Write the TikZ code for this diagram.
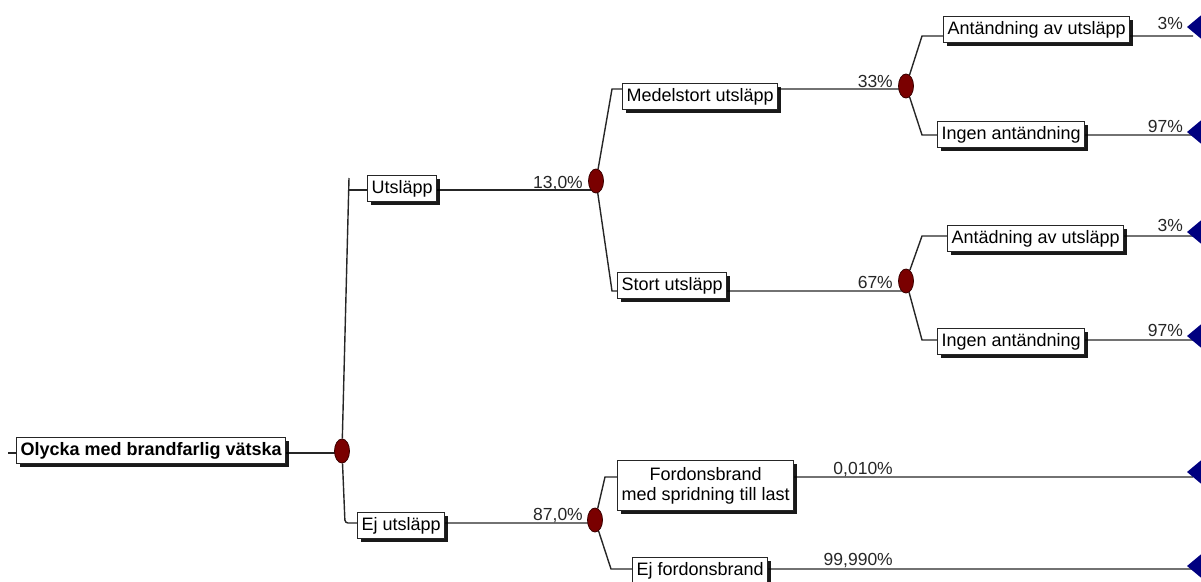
\documentclass[tikz,border=0pt]{standalone}
\usepackage{fontspec}
\setmainfont{Liberation Sans}
\usetikzlibrary{shapes.geometric,shadows}
\pgfdeclarelayer{bg}
\pgfsetlayers{bg,main}
\definecolor{chancefill}{HTML}{7A0000}
\definecolor{chanceline}{HTML}{3A0000}
\definecolor{termfill}{HTML}{000080}
\begin{document}
\begin{tikzpicture}[x=1pt,y=-1pt,
  boxbase/.style={draw=black!85, line width=1.2pt, fill=white, inner xsep=4pt,
    font=\fontsize{18}{20}\selectfont,
    drop shadow={shadow xshift=3.5pt, shadow yshift=-3.5pt, fill=black, opacity=0.9}},
  box/.style={boxbase, inner ysep=0pt, text height=13pt, text depth=4pt, minimum height=26pt},
  boxtwo/.style={boxbase, align=center, inner ysep=5pt, minimum height=50pt},
  chance/.style={ellipse, draw=chanceline, line width=0.8pt, fill=chancefill, minimum width=15pt, minimum height=24pt, inner sep=0pt},
  conn/.style={draw=black!85, line width=1.4pt},
  lab/.style={font=\fontsize{17.5}{20}\selectfont, inner sep=0pt, text=black!85},
  term/.style={fill=termfill}]
\useasboundingbox (0,0) rectangle (1201,581);
\clip (0,0) rectangle (1201,581);

% boxes
\node[box, anchor=north west, font=\bfseries\fontsize{18}{20}\selectfont] (root) at (16,437) {Olycka med brandfarlig vätska};
\node[box, anchor=north west] (utsl) at (367,175) {Utsläpp};
\node[box, anchor=north west] (ejutsl) at (357,512) {Ej utsläpp};
\node[box, anchor=north west] (medel) at (622,83) {Medelstort utsläpp};
\node[box, anchor=north west] (stort) at (617,272) {Stort utsläpp};
\node[boxtwo, anchor=north west] (ford) at (617,460) {Fordonsbrand\\med spridning till last};
\node[box, anchor=north west] (ejford) at (632,557) {Ej fordonsbrand};
\node[box, anchor=north west] (ant1) at (943,16) {Antändning av utsläpp};
\node[box, anchor=north west] (ingen1) at (937,121) {Ingen antändning};
\node[box, anchor=north west] (ant2) at (947,225) {Antädning av utsläpp};
\node[box, anchor=north west] (ingen2) at (937,328) {Ingen antändning};

% chance nodes
\node[chance] (C0) at (342,451) {};
\node[chance] (C1) at (596,181) {};
\node[chance] (C2) at (906,86) {};
\node[chance] (C3) at (906,281) {};
\node[chance] (C4) at (595,520) {};

% knee and end coordinates
\coordinate (s0) at (8,453);
\coordinate (k0a) at (349,178);
\coordinate (k0b) at (349,190);
\coordinate (k0c) at (345,523);
\coordinate (k1a) at (612,89);
\coordinate (k1b) at (612,291);
\coordinate (k2a) at (922,36);
\coordinate (k2b) at (922,135);
\coordinate (k3a) at (922,236);
\coordinate (k3b) at (922,340);
\coordinate (k4a) at (605,477);
\coordinate (k4b) at (611,569);
\coordinate (e1) at (1193,36);
\coordinate (e2) at (1193,135);
\coordinate (e3) at (1193,236);
\coordinate (e4) at (1193,340);
\coordinate (e5) at (1193,477);
\coordinate (e6) at (1193,569);
\coordinate (t1) at (1187,27);
\coordinate (t2) at (1187,132);
\coordinate (t3) at (1187,232);
\coordinate (t4) at (1187,336);
\coordinate (t5) at (1187,472);
\coordinate (t6) at (1187,566);

% connectors
\begin{pgfonlayer}{bg}
\draw[conn] (s0) -- (s0 -| C0);
\draw[conn] (C0) -- (k0a);
\draw[conn] (k0b) -- (k0b -| C1);
\draw[conn, rounded corners=3pt] (C0) -- (k0c) -- (k0c -| C4);
\draw[conn] (C1) -- (k1a) -- (k1a -| C2);
\draw[conn] (C1) -- (k1b) -- (k1b -| C3);
\draw[conn] (C2) -- (k2a) -- (e1);
\draw[conn] (C2) -- (k2b) -- (e2);
\draw[conn] (C3) -- (k3a) -- (e3);
\draw[conn] (C3) -- (k3b) -- (e4);
\draw[conn] (C4) -- (k4a) -- (e5);
\draw[conn] (C4) -- (k4b) -- (e6);
\end{pgfonlayer}

% terminal triangles
\foreach \t in {t1,t2,t3,t4,t5,t6}{
  \fill[term] (\t) -- ++(24,-20) -- ++(0,40) -- cycle;
}

% probability labels
\node[lab, anchor=base east] (p1) at (583,188) {13,0\%};
\node[lab, anchor=base east] (p2) at (583,520) {87,0\%};
\node[lab, anchor=base east] (p3) at (893,87) {33\%};
\node[lab, anchor=base east] (p4) at (893,288) {67\%};
\node[lab, anchor=base east] (p5) at (1183,29) {3\%};
\node[lab, anchor=base east] (p6) at (1183,132) {97\%};
\node[lab, anchor=base east] (p7) at (1183,231) {3\%};
\node[lab, anchor=base east] (p8) at (1183,336) {97\%};
\node[lab, anchor=base east] (p9) at (893,474) {0,010\%};
\node[lab, anchor=base east] (p10) at (893,565) {99,990\%};
\end{tikzpicture}
\end{document}
